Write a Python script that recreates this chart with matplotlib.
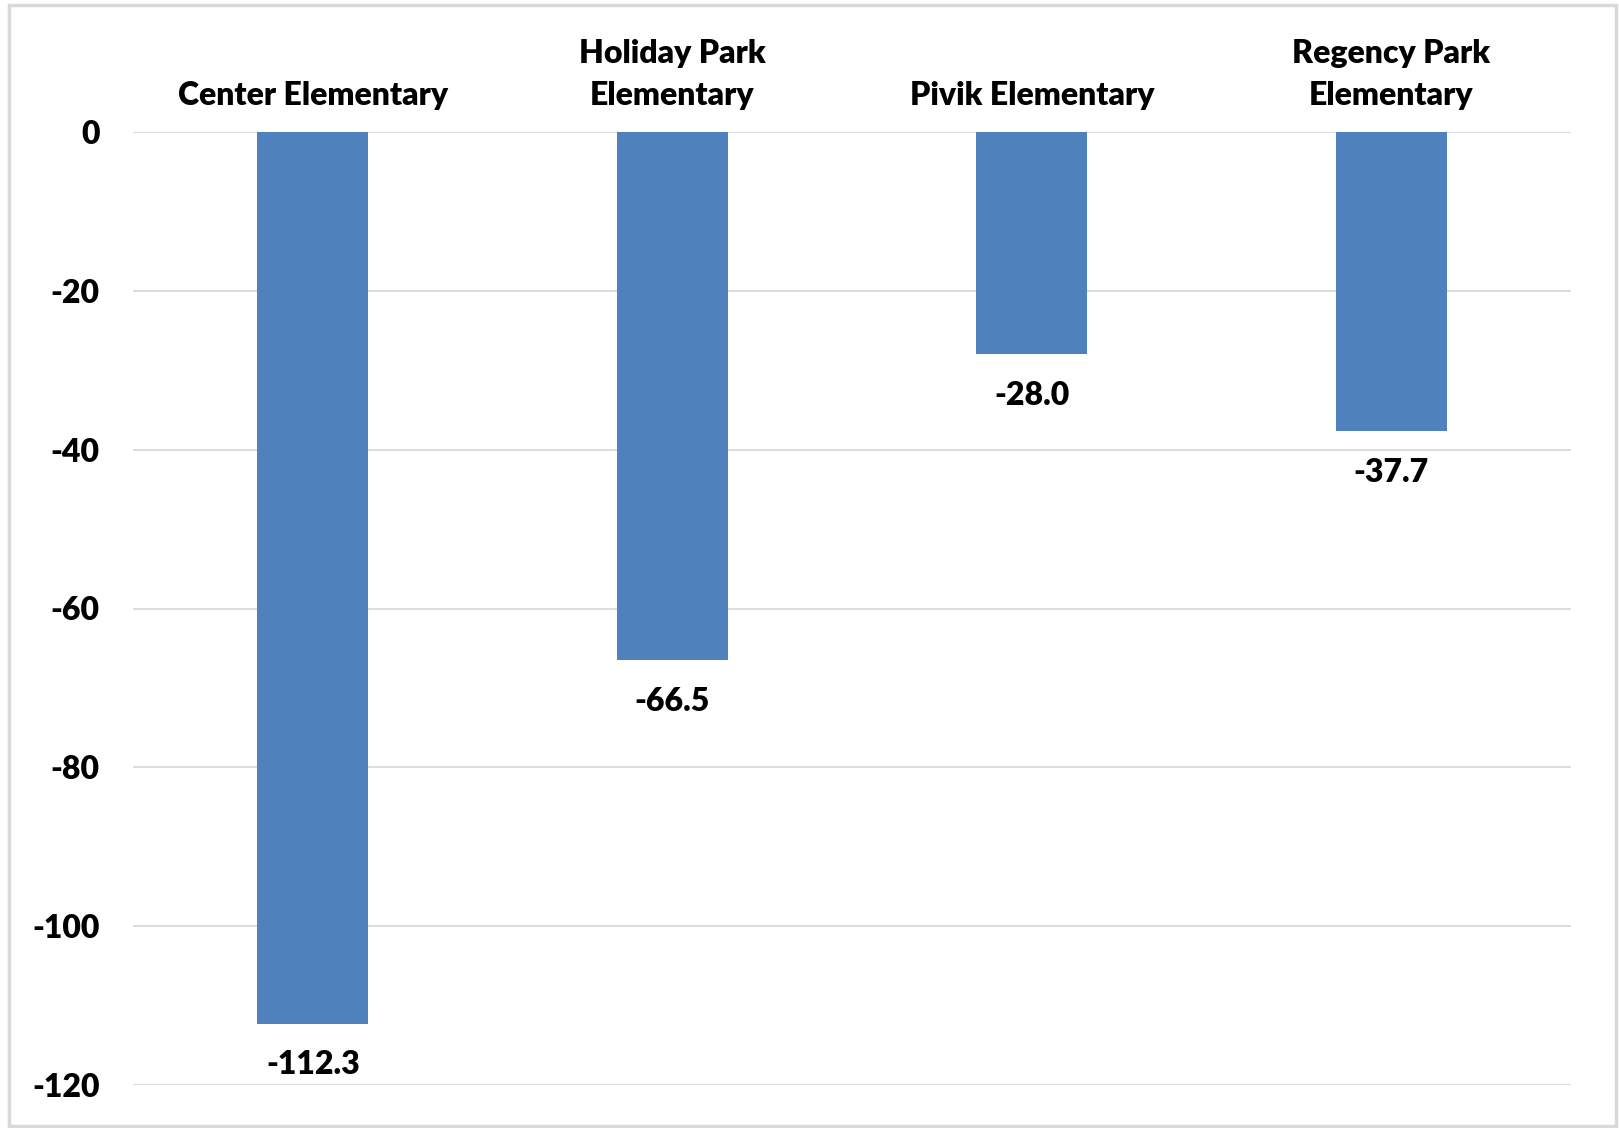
import matplotlib
matplotlib.use("Agg")
import matplotlib.pyplot as plt
from matplotlib.patches import Rectangle

categories = ["Center Elementary", "Holiday Park\nElementary", "Pivik Elementary", "Regency Park\nElementary"]
values = [-112.3, -66.5, -28.0, -37.7]
yticks = [0, -20, -40, -60, -80, -100, -120]

plt.rcParams['font.family'] = ['Lato', 'DejaVu Sans']
FW = 'heavy'
FS = 23

W, H = 1619, 1128
fig = plt.figure(figsize=(W/100, H/100), dpi=100)
fig.patches.append(Rectangle((9/W, 2/H), (1616-9)/W, (1123-2)/H, transform=fig.transFigure,
                             fill=False, edgecolor='#d9d9d9', linewidth=2.5))
ax = fig.add_axes([133/W, 1-1085/H, (1571-133)/W, (1085-132)/H])
x = range(len(categories))
ax.bar(x, values, width=0.31, color='#4f81bd', zorder=3)
ax.set_xlim(-0.5, len(categories)-0.5)
ax.set_ylim(-120, 0)
ax.set_yticks(yticks)
ax.set_yticklabels([str(v) for v in yticks], fontsize=FS, fontweight=FW)
ax.grid(axis='y', color='#d9d9d9', linewidth=1.3, zorder=0)
for s in ax.spines.values():
    s.set_visible(False)
ax.tick_params(axis='y', length=0, pad=24)
ax.xaxis.tick_top()
ax.set_xticks(list(x))
ax.set_xticklabels(categories, fontsize=FS, fontweight=FW, linespacing=1.55)
ax.tick_params(axis='x', length=0, pad=16)
for xi, v in zip(x, values):
    ax.annotate(f"{v:.1f}", (xi, v), xytext=(0, -19), textcoords='offset points',
                ha='center', va='top', fontsize=FS, fontweight=FW)
fig.savefig("out.png", dpi=100)
